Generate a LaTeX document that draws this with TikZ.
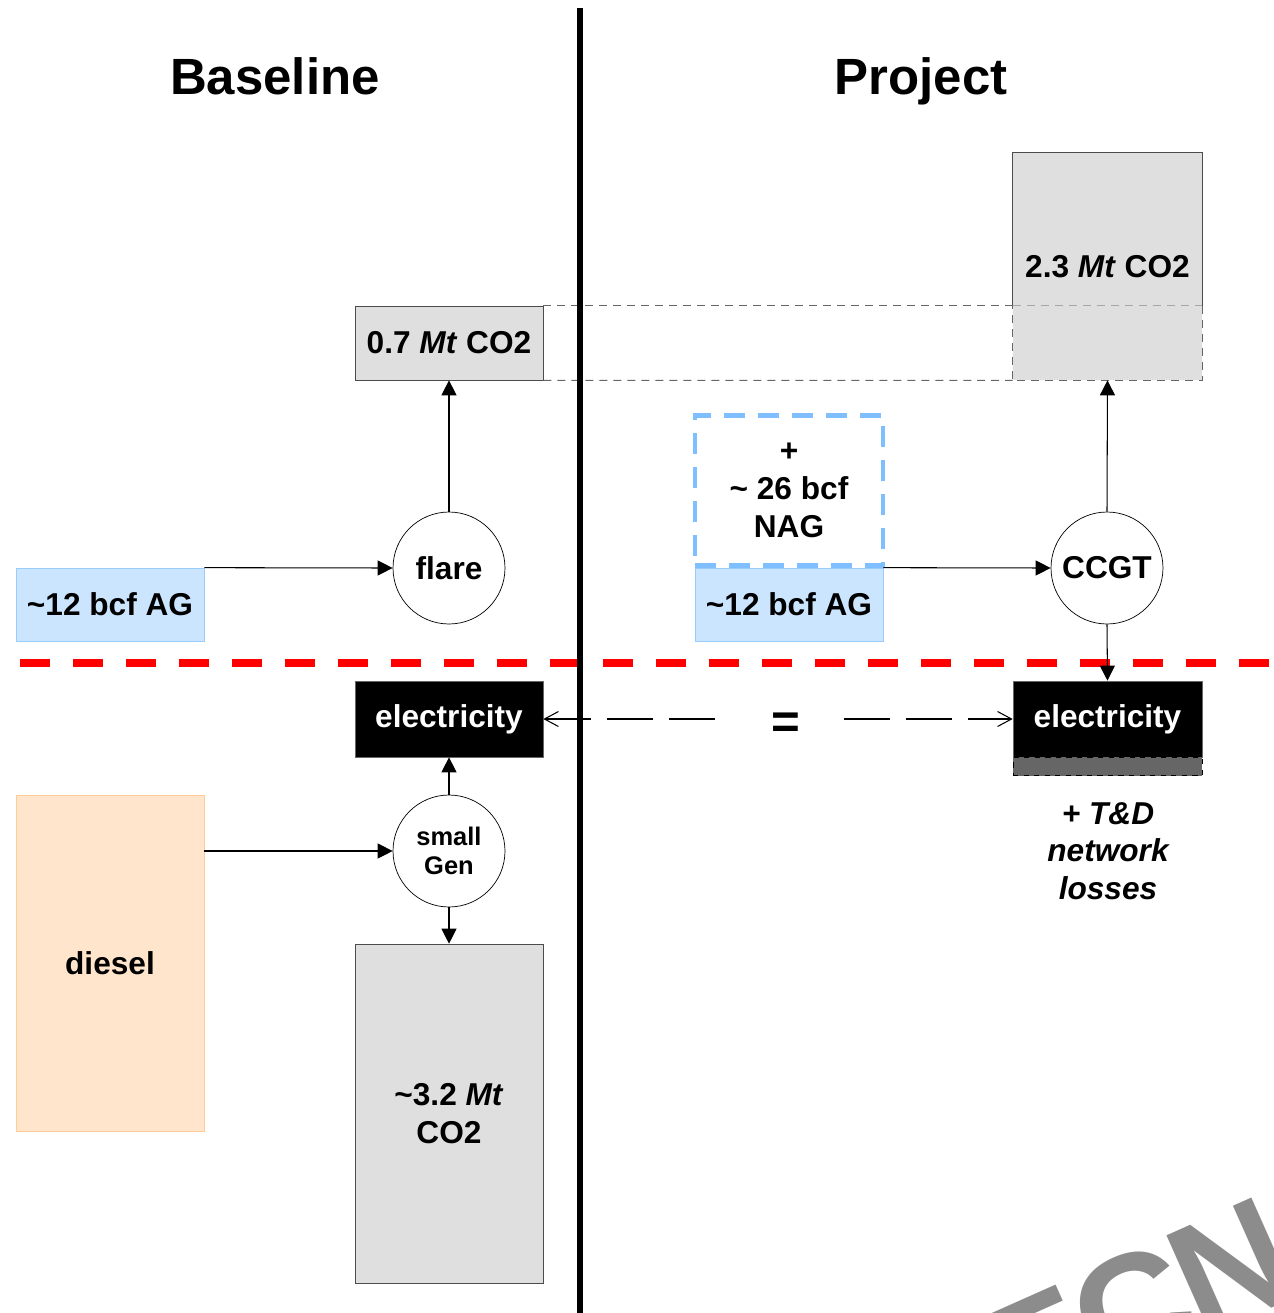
\documentclass[tikz,border=0pt]{standalone}
\usepackage{fontspec}
\setmainfont{Liberation Sans}
\usepackage{tikz}
\usetikzlibrary{positioning, arrows.meta, shapes}
\definecolor{agblue}{HTML}{CCE5FF}
\definecolor{agline}{HTML}{99CCFF}
\definecolor{nagline}{HTML}{80BFFF}
\definecolor{co2gray}{HTML}{DFDFDF}
\definecolor{dieselfill}{HTML}{FFE5CC}
\definecolor{dieselline}{HTML}{FFCC99}
\definecolor{lossgray}{HTML}{666666}
\definecolor{markgray}{HTML}{8C8C8C}
\newcommand{\bodyfont}{\bfseries\fontsize{18}{21.5}\selectfont}
\tikzstyle{title} = [anchor=base, font=\bfseries\fontsize{29}{34}\selectfont]
\tikzstyle{gas} = [rectangle, minimum width=3.76cm, minimum height=1.46cm, text centered, draw=agline, fill=agblue, font=\bodyfont]
\tikzstyle{nag} = [rectangle, minimum width=3.76cm, minimum height=3cm, align=center, draw=nagline, line width=2.6pt, dash pattern=on 0.42cm off 0.26cm, font=\bodyfont]
\tikzstyle{emission} = [rectangle, minimum width=3.76cm, align=center, draw=black!70, fill=co2gray, font=\bodyfont]
\tikzstyle{fuel} = [rectangle, minimum width=3.76cm, minimum height=6.72cm, draw=dieselline, fill=dieselfill, font=\bodyfont]
\tikzstyle{plant} = [circle, minimum size=2.24cm, inner sep=0pt, align=center, draw=black, fill=white, font=\bodyfont]
\tikzstyle{power} = [rectangle, minimum width=3.76cm, minimum height=1.52cm, draw=black!60, fill=black, text=white, font=\bodyfont]
\tikzstyle{arrow} = [line width=0.6pt, -{Triangle[length=0.3cm, width=0.3cm]}]
\tikzstyle{same} = [line width=0.6pt, dash pattern=on 0.92cm off 0.32cm]
\tikzstyle{level} = [line width=0.6pt, black!60, dash pattern=on 0.16cm off 0.12cm]

\begin{document}
\begin{tikzpicture}[x=0.02cm, y=-0.02cm]
\useasboundingbox (0,0) rectangle (1274,1313);

% watermark
\begin{scope}
\clip (0,0) rectangle (1274,1313);
\node [markgray, anchor=base west, inner sep=0pt, rotate=24, font=\bfseries\fontsize{90}{90}\selectfont] at (1012,1424) {E\kern-0.04em C\kern-0.04em N};
\end{scope}

\node (base) [title] at (275,94) {Baseline};
\node (proj) [title] at (921,94) {Project};

% baseline
\node (agL) [gas] at (110,604.5) {\textasciitilde12 bcf AG};
\node (flare) [plant] at (449,568) {flare};
\node (co2L) [emission, minimum height=1.48cm] at (449,343) {0.7 \textit{Mt} CO2};
\node (elecL) [power] at (449,719) {electricity};
\node (gen) [plant, font=\bfseries\fontsize{14.5}{16.5}\selectfont] at (449,851) {small\\Gen};
\node (diesel) [fuel] at (110,963) {diesel};
\node (co2big) [emission, minimum height=6.78cm] at (449,1113.5) {\textasciitilde3.2 \textit{Mt}\\CO2};

% project
\node (agR) [gas] at (789,604.5) {\textasciitilde12 bcf AG};
\node (nagR) [nag, above=0pt of agR] {+\\\textasciitilde{} 26 bcf\\NAG};
\node (ccgt) [plant] at (1107,568) {CCGT};
\node (co2R) [emission, draw=none, minimum width=3.78cm, minimum height=4.54cm] at (1107.5,266.5) {2.3 \textit{Mt} CO2};
\node (elecR) [power, minimum width=3.78cm] at (1107.5,719) {electricity};
\node (loss) [rectangle, below=0pt of elecR, minimum width=3.78cm, minimum height=0.36cm, fill=lossgray, draw=black, dashed] {};
\node (td) [font=\bfseries\itshape\fontsize{18}{21.3}\selectfont, align=center] at (1108,851) {+ T\&D\\network\\losses};

% levels
\draw [black!70, line width=0.6pt] (co2R.west |- co2L.north) -- (co2R.north west) -- (co2R.north east) -- (co2R.east |- co2L.north);
\draw [level, black!35] (co2R.west |- co2L.north) -- (co2R.east |- co2L.north);
\draw [level] (co2R.east |- co2L.north) -- (co2R.south east) -- (co2R.south west) -- (co2R.west |- co2L.north);
\draw [level] (co2L.north east) -- (co2R.west |- co2L.north);
\draw [level] (co2L.south east) -- (co2R.south west);

% divisions
\draw [red, line width=4pt, dash pattern=on 0.6cm off 0.46cm] (20,663) -- (1274,663);
\draw [line width=2.9pt] (580,8) -- (580,1313);

% flows
\draw [arrow] (agL.north east) -- (flare.west);
\draw [arrow] (flare.north) -- (co2L.south);
\draw [arrow] (gen.west -| diesel.east) -- (gen.west);
\draw [arrow] (gen.north) -- (elecL.south);
\draw [arrow] (gen.south) -- (co2big.north);
\draw [arrow] (agR.north east) -- (ccgt.west);
\draw [arrow] (ccgt.north) -- (co2R.south);
\draw [arrow] (ccgt.south) -- (elecR.north);

\node (eq) [minimum width=2.3cm, font=\bfseries\fontsize{28}{30}\selectfont] at (786,726) {=};
\draw [same, {Straight Barb[length=0.28cm, width=0.3cm]}-] (elecL.east) -- (eq.west |- elecL.east);
\draw [same, -{Straight Barb[length=0.28cm, width=0.3cm]}] (eq.east |- elecR.west) -- (elecR.west);
\end{tikzpicture}
\end{document}
